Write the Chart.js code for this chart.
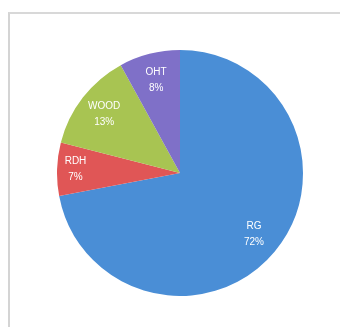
<!DOCTYPE html>
<html>
<head>
<meta charset="utf-8">
<script src="https://cdn.jsdelivr.net/npm/chart.js@4"></script>
<style>
  body { margin: 0; background: #fff; width: 340px; height: 327px; overflow: hidden; position: relative; }
  .frame { position: absolute; left: 8px; top: 12px; width: 340px; height: 330px;
           border-left: 2px solid #d4d4d4; border-top: 2px solid #d8d8d8; }
  .box { position: absolute; left: 57px; top: 50px; width: 246px; height: 246px; }
</style>
</head>
<body>
<div class="frame"></div>
<div class="box"><canvas id="pie"></canvas></div>
<script>
const categories = ['RG', 'RDH', 'WOOD', 'OHT'];
const shares = [72, 7, 13, 8];
const colors = ['#4a8ed6', '#e05656', '#a8c452', '#7f70c8'];

// white two-line labels inside each slice
const sliceLabels = {
  id: 'sliceLabels',
  afterDatasetsDraw(chart) {
    const ctx = chart.ctx;
    const meta = chart.getDatasetMeta(0);
    ctx.save();
    ctx.fillStyle = '#fff';
    ctx.font = '10px "Liberation Sans", Arial, sans-serif';
    ctx.textAlign = 'center';
    ctx.textBaseline = 'middle';
    meta.data.forEach((arc, i) => {
      const mid = (arc.startAngle + arc.endAngle) / 2;
      const r = arc.outerRadius * (i === 1 ? 0.85 : 0.78);
      const x = arc.x + Math.cos(mid) * r;
      const y = arc.y + Math.sin(mid) * r;
      ctx.fillText(categories[i], x, y - 8);
      ctx.fillText(shares[i] + '%', x, y + 8);
    });
    ctx.restore();
  }
};

new Chart(document.getElementById('pie'), {
  type: 'pie',
  data: {
    labels: categories,
    datasets: [{ data: shares, backgroundColor: colors, borderWidth: 0 }]
  },
  options: {
    responsive: true,
    maintainAspectRatio: false,
    animation: false,
    layout: { padding: 0 },
    plugins: { legend: { display: false }, tooltip: { enabled: false } }
  },
  plugins: [sliceLabels]
});
</script>
</body>
</html>
